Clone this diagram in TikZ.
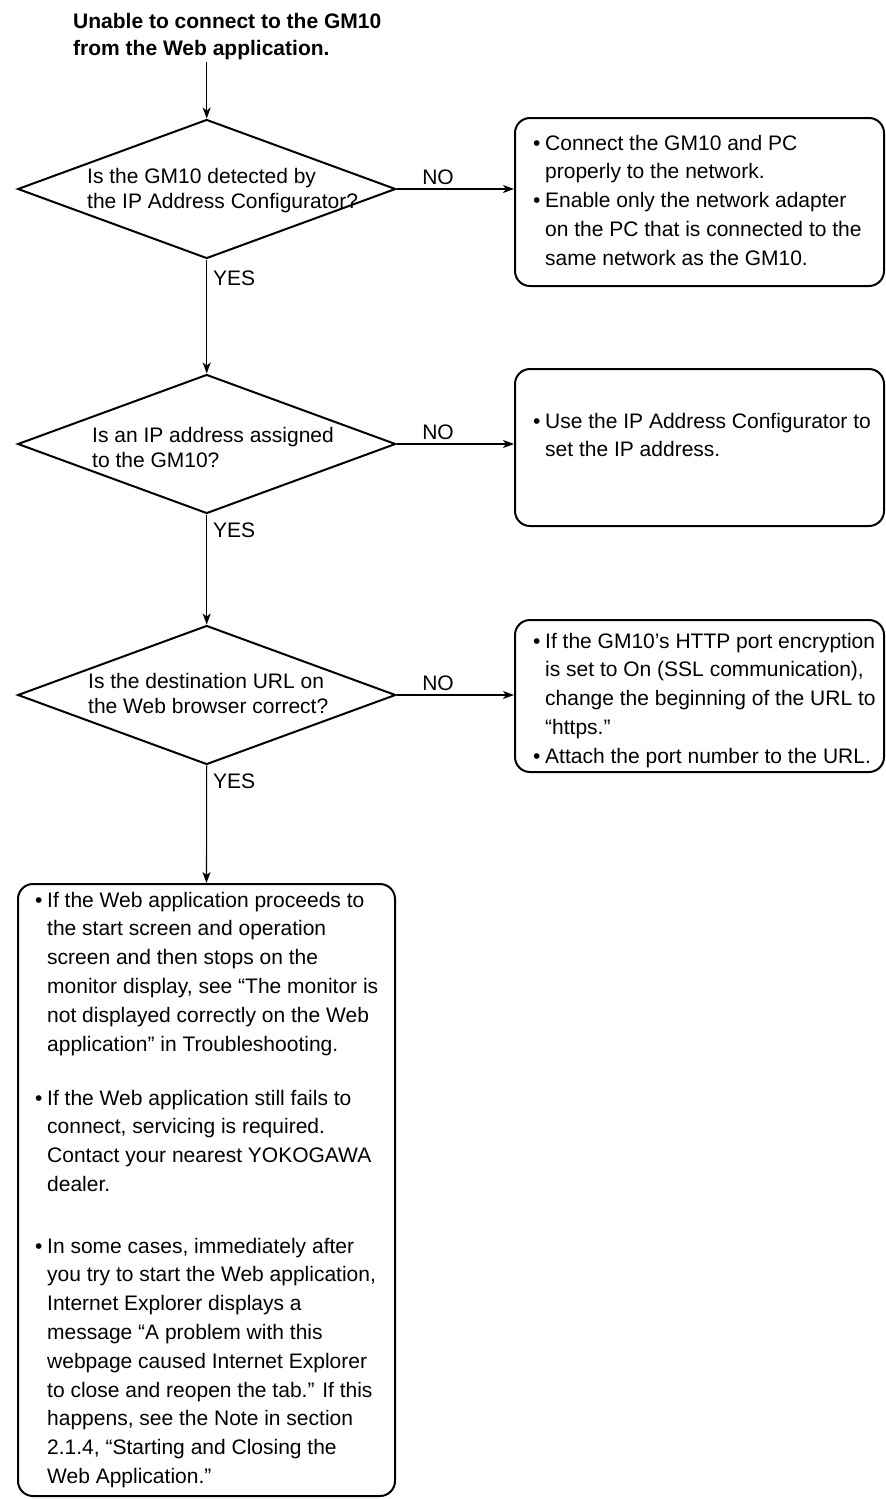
\documentclass[tikz,border=0pt]{standalone}
\usepackage{fontspec}
\setmainfont{Liberation Sans}
\usetikzlibrary{arrows.meta,shapes.geometric}
\newcommand\bul{\leavevmode\llap{\makebox[12pt][l]{•}}}
\newcommand\btext[1]{\parbox[t]{420pt}{\fontsize{21}{28.8}\selectfont\leftskip=12pt\relax #1}}
\newcommand\dtext[1]{\parbox[t]{320pt}{\fontsize{21}{25}\selectfont #1}}
\begin{document}
\begin{tikzpicture}[x=1pt,y=-1pt,
  conn/.style={line width=1.1pt,-{Stealth[length=11pt,width=8pt,inset=3pt]}},
  dia/.style={diamond, draw, line width=2pt, minimum width=378pt, minimum height=139pt, inner sep=0pt},
  rbox/.style={draw, line width=2pt, rounded corners=15pt, inner sep=0pt},
  lbl/.style={inner sep=0pt, anchor=base west, font=\fontsize{21}{25}\selectfont},
  txt/.style={inner sep=0pt, anchor=base west}]
\fill[white] (0,0) rectangle (886,1499);
\useasboundingbox (0,0) rectangle (886,1499);

% title
\node[txt] (title) at (73,28) {\parbox[t]{420pt}{\fontsize{21}{27}\selectfont\bfseries Unable to connect to the GM10\\from the Web application.}};
\coordinate (start) at (206.7,62);

% diamonds
\node[dia] (d1) at (206.7,189) {};
\node[dia] (d2) at (206.7,444) {};
\node[dia] (d3) at (206.7,695) {};
\node[txt] (q1) at (87,183) {\dtext{Is the GM10 detected by\\the IP Address Configurator?}};
\node[txt] (q2) at (92,442) {\dtext{Is an IP address assigned\\to the GM10?}};
\node[txt] (q3) at (88,688) {\dtext{Is the destination URL on\\the Web browser correct?}};

% boxes
\node[rbox, minimum width=369pt, minimum height=168pt] (b1) at (699.5,202) {};
\node[rbox, minimum width=369pt, minimum height=157pt] (b2) at (699.5,447.5) {};
\node[rbox, minimum width=369pt, minimum height=152pt] (b3) at (699.5,696) {};
\node[rbox, minimum width=377pt, minimum height=612pt] (b4) at (206.5,1190) {};

\node[txt] (a1) at (533,150) {\btext{\bul Connect the GM10 and PC\\properly to the network.\par
\bul Enable only the network adapter\\on the PC that is connected to the\\same network as the GM10.}};
\node[txt] (a2) at (533,428) {\btext{\bul Use the IP Address Configurator to\\set the IP address.}};
\node[txt] (a3) at (533,648) {\btext{\bul If the GM10’s HTTP port encryption\\is set to On (SSL communication),\\change the beginning of the URL to\\“https.”\par
\bul Attach the port number to the URL.}};
\node[txt] (a4) at (35,907) {\btext{\bul If the Web application proceeds to\\the start screen and operation\\screen and then stops on the\\monitor display, see “The monitor is\\not displayed correctly on the Web\\application” in Troubleshooting.}};
\node[txt] (a5) at (35,1105) {\btext{\bul If the Web application still fails to\\connect, servicing is required.\\Contact your nearest YOKOGAWA\\dealer.}};
\node[txt] (a6) at (35,1253) {\btext{\bul In some cases, immediately after\\you try to start the Web application,\\Internet Explorer displays a\\message “A problem with this\\webpage caused Internet Explorer\\to close and reopen the tab.” If this\\happens, see the Note in section\\2.1.4, “Starting and Closing the\\Web Application.”}};

% connectors
\draw[conn] (start) -- (d1.north);
\draw[conn] (d1.south) -- (d2.north);
\draw[conn] (d2.south) -- (d3.north);
\draw[conn] (d3.south) -- (b4.north);
\draw[conn] (d1.east) -- (d1.east -| b1.west);
\draw[conn] (d2.east) -- (d2.east -| b2.west);
\draw[conn] (d3.east) -- (d3.east -| b3.west);

% labels
\node[lbl] (yes1) at (213,285) {YES};
\node[lbl] (yes2) at (213,537) {YES};
\node[lbl] (yes3) at (213,788) {YES};
\node[lbl, anchor=base] (no1) at (438,184) {NO};
\node[lbl, anchor=base] (no2) at (438,439) {NO};
\node[lbl, anchor=base] (no3) at (438,690) {NO};
\end{tikzpicture}
\end{document}
